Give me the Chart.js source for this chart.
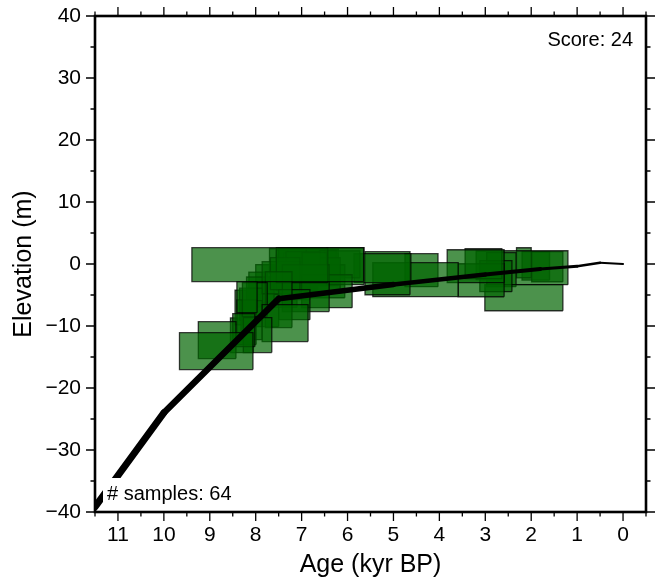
<!DOCTYPE html>
<html>
<head>
<meta charset="utf-8">
<title>Relative sea level</title>
<script src="https://cdn.jsdelivr.net/npm/chart.js@4.4.1/dist/chart.umd.min.js"></script>
<style>
  html, body { margin: 0; padding: 0; background: #ffffff; }
  canvas { display: block; }
</style>
</head>
<body>
<canvas id="chart" width="656" height="583"></canvas>
<script>
// Dated samples: age (kyr BP) and elevation (m), each with its half-range uncertainty
const sampleAge = [
  7.52, 8.86, 8.84, 8.26, 7.96, 7.36, 8.19, 8.02, 7.50, 8.20,
  8.09, 7.16, 6.99, 6.91, 6.45, 6.05, 6.72, 7.36, 7.45, 6.97,
  6.65, 7.04, 6.49, 6.17, 5.24, 5.13, 4.52, 4.39, 3.21, 3.04,
  3.09, 2.77, 2.16, 2.65, 1.90, 2.16, 1.65, 7.20, 6.90, 7.05,
  6.75, 7.30, 6.60, 7.00, 6.85, 7.15, 6.50, 7.40, 6.65, 7.10,
  6.95, 8.10, 7.90, 8.25, 7.75, 7.95, 7.70, 8.30, 7.45, 6.80,
  7.25, 6.55, 2.90, 1.90
];
const sampleAgeErr = [
  1.87, 0.80, 0.41, 0.24, 0.31, 0.50, 0.22, 0.27, 0.29, 0.21,
  0.23, 0.34, 0.56, 0.51, 0.55, 0.41, 0.27, 0.32, 0.41, 0.37,
  0.49, 0.22, 0.43, 0.44, 0.62, 0.49, 0.93, 0.36, 0.62, 0.40,
  0.50, 0.35, 0.85, 0.32, 0.70, 0.16, 0.34, 0.30, 0.40, 0.35,
  0.30, 0.25, 0.35, 0.45, 0.30, 0.40, 0.30, 0.30, 0.45, 0.20,
  0.30, 0.25, 0.30, 0.20, 0.25, 0.20, 0.30, 0.25, 0.35, 0.35,
  0.30, 0.25, 0.30, 0.30
];
const sampleElev = [
  -0.10, -14.05, -12.28, -10.67, -11.47, -9.54, -5.35, -5.75, -5.75, -9.40,
  -9.06, -6.56, -0.20, -3.90, -4.39, -0.36, -0.50, -1.56, -2.20, 0.12,
  -1.73, -2.69, -2.78, -0.04, -0.68, -1.49, -2.53, -1.00, -0.36, 0.05,
  -2.62, -1.97, -5.44, -0.92, -0.60, 0.20, -0.44, 0.30, 0.00, -0.60,
  0.40, -0.30, -0.20, 0.60, -1.20, -1.80, 0.20, 0.50, -0.90, 0.90,
  -2.20, -6.50, -4.50, -7.00, -7.50, -3.80, -2.50, -11.50, -4.60, 1.00,
  -0.90, -1.00, -0.20, -0.30
];
const sampleElevErr = [
  2.73, 2.98, 2.98, 2.66, 2.82, 2.98, 2.50, 2.73, 4.50, 3.60,
  3.14, 2.42, 2.82, 3.78, 2.66, 2.98, 2.33, 2.58, 2.58, 1.86,
  2.74, 3.06, 2.66, 2.18, 2.34, 3.47, 2.74, 2.66, 2.66, 2.42,
  2.66, 2.50, 2.10, 2.74, 2.74, 2.42, 2.42, 2.20, 2.50, 2.40,
  2.00, 2.60, 2.40, 1.90, 2.30, 2.50, 2.20, 2.00, 2.60, 1.60,
  2.40, 2.60, 2.40, 2.80, 2.60, 2.50, 2.40, 2.80, 2.40, 1.50,
  2.30, 2.50, 2.30, 2.30
];

// Best-fit sea-level curve
const curveAge  = [11.5, 10.0, 7.5, 5.0, 3.0, 1.8, 1.0, 0.5, 0.0];
const curveElev = [-39.2, -24.0, -5.6, -3.3, -1.7, -0.8, -0.35, 0.2, 0.0];

// Fit score shown in the corner
const fitScore = 24;

// Labelled tick values
const ageTickLabels  = [0, 1, 2, 3, 4, 5, 6, 7, 8, 9, 10, 11];
const elevTickLabels = [-40, -30, -20, -10, 0, 10, 20, 30, 40];

// Stroke widths of the curve, one per segment (the band narrows toward the present)
const curveSegmentWidths = [7, 6.5, 5.5, 4.5, 4, 3, 2.5, 2];

const FONT = "'Liberation Sans', Arial, Helvetica, sans-serif";
Chart.defaults.font.family = FONT;
Chart.defaults.color = '#000000';

const boxDatasets = sampleAge.map((age, i) => {
  const a0 = age - sampleAgeErr[i], a1 = age + sampleAgeErr[i];
  const e0 = sampleElev[i] - sampleElevErr[i], e1 = sampleElev[i] + sampleElevErr[i];
  return {
    label: 'sample ' + (i + 1),
    data: [
      { x: a0, y: e0 }, { x: a1, y: e0 }, { x: a1, y: e1 }, { x: a0, y: e1 }, { x: a0, y: e0 }
    ],
    showLine: true,
    fill: 'shape',
    backgroundColor: 'rgba(0,100,0,0.7)',
    borderColor: 'rgba(0,0,0,0.75)',
    borderWidth: 1.3,
    pointRadius: 0,
    pointHoverRadius: 0,
    tension: 0,
    order: 1
  };
});

const curveDataset = {
  label: 'curve',
  data: curveAge.map((a, i) => ({ x: a, y: curveElev[i] })),
  showLine: true,
  fill: false,
  borderColor: '#000000',
  borderWidth: 7,
  borderJoinStyle: 'round',
  borderCapStyle: 'round',
  pointRadius: 0,
  pointHoverRadius: 0,
  tension: 0,
  order: 0,
  segment: {
    borderWidth: ctx => curveSegmentWidths[ctx.p0DataIndex]
  }
};

// Frame, tick marks on all four sides and the two text annotations
const framePlugin = {
  id: 'frame',
  afterDatasetsDraw(chart) {
    const { ctx, chartArea: ca, scales } = chart;
    const xs = scales.x, ys = scales.y;
    ctx.save();
    ctx.strokeStyle = '#000000';
    ctx.lineWidth = 1.3;
    ctx.beginPath();
    xs.ticks.forEach(t => {
      const px = xs.getPixelForValue(t.value);
      const len = Number.isInteger(t.value) ? 9 : 4.5;
      ctx.moveTo(px, ca.bottom); ctx.lineTo(px, ca.bottom + len);
      ctx.moveTo(px, ca.top); ctx.lineTo(px, ca.top - len);
    });
    ys.ticks.forEach(t => {
      const py = ys.getPixelForValue(t.value);
      const len = t.value % 10 === 0 ? 9 : 4.5;
      ctx.moveTo(ca.left, py); ctx.lineTo(ca.left - len, py);
      ctx.moveTo(ca.right, py); ctx.lineTo(ca.right + len, py);
    });
    ctx.stroke();

    ctx.lineWidth = 2.6;
    ctx.strokeRect(ca.left, ca.top, ca.right - ca.left, ca.bottom - ca.top);

    // score, upper right
    ctx.font = '20px ' + FONT;
    ctx.fillStyle = '#000000';
    ctx.textAlign = 'right';
    ctx.textBaseline = 'alphabetic';
    ctx.fillText('Score: ' + fitScore, ca.right - 13, ca.top + 30);

    // sample count on a white label, lower left
    const txt = '# samples: ' + sampleAge.length;
    ctx.textAlign = 'left';
    const w = ctx.measureText(txt).width;
    ctx.fillStyle = '#ffffff';
    ctx.fillRect(ca.left + 8, ca.bottom - 34, w + 8, 26);
    ctx.fillStyle = '#000000';
    ctx.fillText(txt, ca.left + 12, ca.bottom - 12);
    ctx.restore();
  }
};

new Chart(document.getElementById('chart'), {
  type: 'scatter',
  data: { datasets: [curveDataset, ...boxDatasets] },
  options: {
    responsive: false,
    animation: false,
    devicePixelRatio: 1,
    layout: { autoPadding: false, padding: { top: 16, right: 10, left: 0, bottom: 0 } },
    plugins: {
      legend: { display: false },
      tooltip: { enabled: false }
    },
    scales: {
      x: {
        type: 'linear',
        reverse: true,
        min: -0.5,
        max: 11.5,
        grid: { display: false, drawTicks: false },
        border: { display: false },
        ticks: {
          stepSize: 0.5,
          autoSkip: false,
          maxRotation: 0,
          padding: 11,
          font: { size: 21 },
          callback: v => ageTickLabels.includes(v) ? String(v) : ''
        },
        title: {
          display: true,
          text: 'Age (kyr BP)',
          font: { size: 25 },
          padding: { top: 0, bottom: 3 }
        },
        afterFit(scale) {
          scale.height = 71;
          scale.paddingLeft = 0;
          scale.paddingRight = 0;
        }
      },
      y: {
        type: 'linear',
        min: -40,
        max: 40,
        grid: { display: false, drawTicks: false },
        border: { display: false },
        ticks: {
          stepSize: 5,
          autoSkip: false,
          padding: 14,
          font: { size: 21 },
          callback: v => elevTickLabels.includes(v) ? (v < 0 ? '\u2212' + Math.abs(v) : String(v)) : ''
        },
        title: {
          display: true,
          text: 'Elevation (m)',
          font: { size: 25 },
          padding: { top: 9, bottom: 0 }
        },
        afterFit(scale) {
          scale.width = 95;
          scale.paddingTop = 0;
          scale.paddingBottom = 0;
        }
      }
    }
  },
  plugins: [framePlugin]
});
</script>
</body>
</html>
